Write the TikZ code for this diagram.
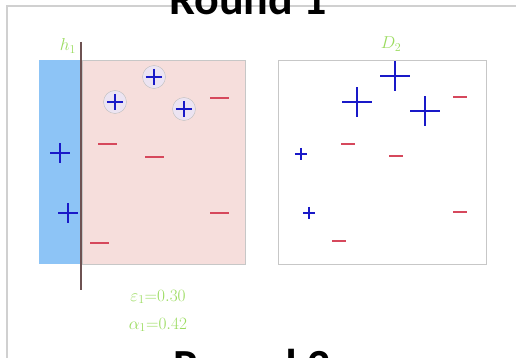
\documentclass[tikz,border=0pt]{standalone}
\usepackage{fontspec}
\setsansfont{Carlito}
\usetikzlibrary{positioning}
\definecolor{moldura}{RGB}{208,208,208}
\definecolor{azul}{RGB}{141,196,246}
\definecolor{rosa}{RGB}{246,222,220}
\definecolor{verdeclaro}{RGB}{155,220,95}
\definecolor{mais}{RGB}{25,25,200}
\definecolor{menos}{RGB}{214,72,92}
\definecolor{lilas}{RGB}{236,228,242}
\definecolor{linhah}{RGB}{110,82,82}
\begin{document}
\begin{tikzpicture}[
    x=1pt, y=-1pt,
    painel/.style={
        draw=black!22,
        thin,
        inner sep=0pt,
        minimum height=204pt
    },
    sinalmenos/.style={
        fill=menos,
        inner sep=0pt,
        minimum height=2.4pt
    },
    sinalmais/.style={
        inner sep=0pt
    },
    traco/.style={
        draw=mais,
        line width=1.5pt
    },
    anel/.style={
        circle,
        draw=black!25,
        fill=lilas,
        minimum size=23pt,
        inner sep=0pt
    },
    rotulo/.style={
        text=verdeclaro,
        font=\fontsize{17}{19}\selectfont
    },
    titulo/.style={
        font=\sffamily\bfseries\fontsize{46}{50}\selectfont,
        anchor=base
    }
]

\useasboundingbox (0,0) rectangle (516,358);
\clip (0,0) rectangle (516,358);
\fill[white] (0,0) rectangle (516,358);

% moldura do slide
\draw[moldura, line width=1.2pt] (7,6) rectangle (540,380);

\node[titulo] (round1) at (248,15) {Round 1};
\node[titulo] (round2) at (252,381) {Round 2};

% =================================================
% PAINEL 1 - CLASSIFICADOR h1
% =================================================

\node[painel, fill=rosa, minimum width=163pt] (regneg) at (163.5,162) {};
\node[painel, draw=none, fill=azul, minimum width=43pt] (regpos) at (60.5,162) {};

\coordinate (h1topo) at (81,42);
\coordinate (h1base) at (81,290);
\draw[linhah, line width=1.5pt] (h1topo) -- (h1base);
\node[rotulo] (h1) at (68,46) {$h_1$};

% erros marcados
\foreach \n/\x/\y in {a/115/102, b/154/77, c/184/109}{
    \node[anel] (c\n) at (\x,\y) {};
}

\foreach \n/\x/\y/\s in {a/115/102/16, b/154/77/16, c/184/109/16, d/60/153/19, e/68/213/19}{
    \node[sinalmais, minimum size=\s pt] (p\n) at (\x,\y) {};
    \draw[traco] (p\n.north) -- (p\n.south) (p\n.west) -- (p\n.east);
}

\foreach \n/\x/\y in {a/219/98, b/107/144, c/154/157, d/219/213, e/99/243}{
    \node[sinalmenos, minimum width=19pt] (m\n) at (\x,\y) {};
}

\node[rotulo] (eps) at (158,297) {$\varepsilon_1{=}0.30$};
\node[rotulo] (alfa) at (158,325) {$\alpha_1{=}0.42$};

% =================================================
% PAINEL 2 - DISTRIBUICAO D2
% =================================================

\node[painel, fill=white, minimum width=208pt] (dist) at (382,162) {};
\node[rotulo] (d2) at (391,44) {$D_2$};

\foreach \n/\x/\y/\s in {f/395/76/29, g/357/102/29, h/425/111/29, i/301/154/12, j/309/213/12}{
    \node[sinalmais, minimum size=\s pt] (p\n) at (\x,\y) {};
    \draw[traco] (p\n.north) -- (p\n.south) (p\n.west) -- (p\n.east);
}

\foreach \n/\x/\y in {f/460/97, g/348/144, h/396/156, i/460/212, j/339/241}{
    \node[sinalmenos, minimum width=14pt] (m\n) at (\x,\y) {};
}

\end{tikzpicture}
\end{document}
